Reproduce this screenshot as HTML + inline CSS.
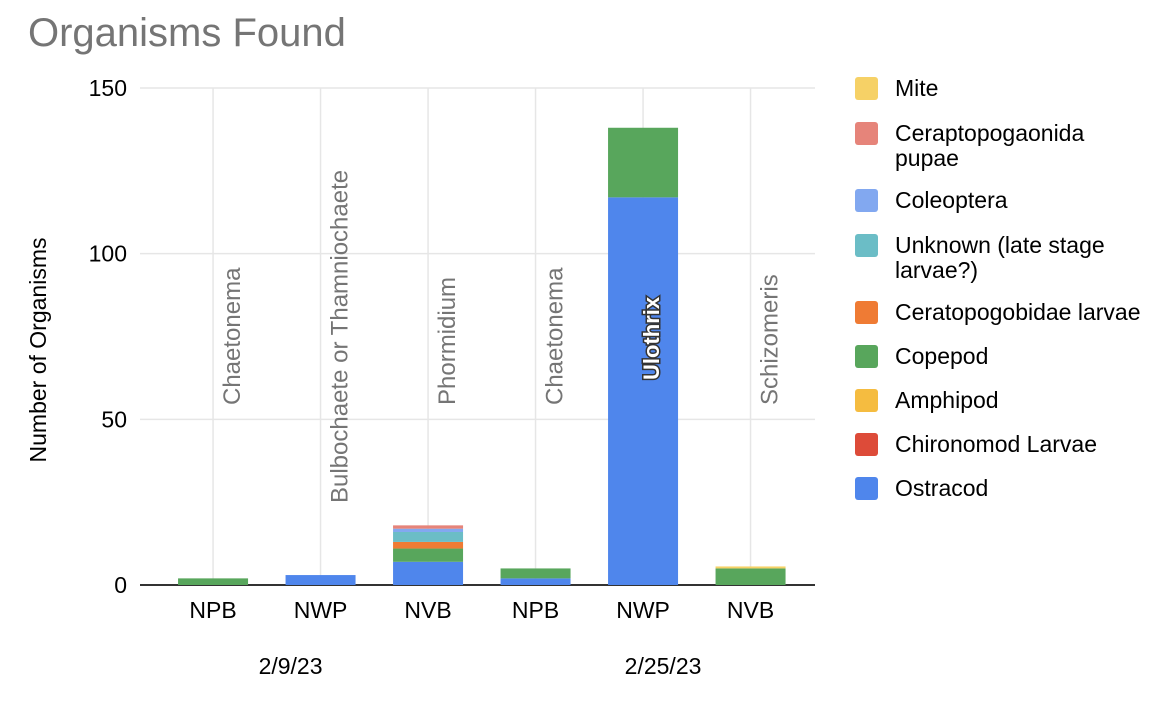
<!DOCTYPE html>
<html><head><meta charset="utf-8"><style>
body{margin:0;background:#fff;font-family:"Liberation Sans",Arial,sans-serif;}
svg text{font-family:"Liberation Sans",Arial,sans-serif;}
</style></head><body>
<svg id="c" width="1164" height="700">
<text x="28" y="46" font-size="40" fill="#757575">Organisms Found</text>
<text transform="translate(46,350) rotate(-90)" text-anchor="middle" font-size="23" fill="#000">Number of Organisms</text>
<g id="grid"></g><g id="bars"></g><g id="ann"></g><g id="legend"></g>
</svg>
<script>
const categories=["NPB","NWP","NVB","NPB","NWP","NVB"];
const dates=["2/9/23","2/25/23"];
const annotations=["Chaetonema","Bulbochaete or Thamniochaete","Phormidium","Chaetonema","Ulothrix","Schizomeris"];
const seriesNames=["Ostracod","Chironomod Larvae","Amphipod","Copepod","Ceratopogobidae larvae","Unknown (late stage larvae?)","Coleoptera","Ceraptopogaonida pupae","Mite"];
const colors=["#4f86ec","#dd4b39","#f5bc40","#58a65c","#ef7b34","#6bbdc6","#82a8f0","#e6847a","#f6d166"];
const ostracod=[0,3,7,2,117,0];
const chironomod=[0,0,0,0,0,0];
const amphipod=[0,0,0,0,0,0];
const copepod=[2,0,4,3,21,5];
const ceratoLarvae=[0,0,2,0,0,0];
const unknown=[0,0,3,0,0,0];
const coleoptera=[0,0,1,0,0,0];
const pupae=[0,0,1,0,0,0];
const mite=[0,0,0,0,0,0.6];
const yTicks=[0,50,100,150];
const series=[ostracod,chironomod,amphipod,copepod,ceratoLarvae,unknown,coleoptera,pupae,mite];
const NS="http://www.w3.org/2000/svg";
const y0=585,y1=88,yMax=150,xL=159.3,step=107.5,bw=70;
const Y=v=>y0-v/yMax*(y0-y1);
const X=i=>xL+step*(i+0.5);
function mk(t,a,p){const e=document.createElementNS(NS,t);for(const k in a)e.setAttribute(k,a[k]);(p||document.getElementById('c')).appendChild(e);return e;}
const grid=document.getElementById('grid'),bars=document.getElementById('bars'),ann=document.getElementById('ann'),lg=document.getElementById('legend');
yTicks.forEach(t=>{
 if(t>0){const l=mk('line',{x1:140,x2:815,y1:Y(t),y2:Y(t),stroke:'#e6e6e6','stroke-width':1.5},grid);
 
 }
 const tx=mk('text',{x:127,y:Y(t)+8,'text-anchor':'end','font-size':23},grid);tx.textContent=t;
 
 
});
categories.forEach((c,i)=>{
 const l=mk('line',{x1:X(i),x2:X(i),y1:y1,y2:y0,stroke:'#e6e6e6','stroke-width':1.5},grid);
 
 
 let acc=0;
 series.forEach((s,k)=>{const v=s[i];if(!v)return;
  const r=mk('rect',{x:X(i)-bw/2,y:Y(acc+v),width:bw,height:Y(acc)-Y(acc+v),fill:colors[k]},bars);
  
  
  acc+=v;});
 const t=mk('text',{x:X(i),y:618,'text-anchor':'middle','font-size':23},grid);t.textContent=c;
 
 
 const isU=annotations[i]==="Ulothrix";
 const endY=i===1?503:(isU?380:405);
 const a=mk('text',{transform:`translate(${X(i)+(isU?16:27)},${endY}) rotate(-90)`,'font-size':isU?22:24,fill:isU?'#fff':'#757575',stroke:isU?'#333':'none','stroke-width':isU?3:0,'paint-order':'stroke','font-weight':isU?'bold':'normal'},ann);
 a.textContent=annotations[i];
 
 
});
const base=mk('line',{x1:140,x2:815,y1:y0,y2:y0,stroke:'#333','stroke-width':2},grid);


dates.forEach((d,j)=>{const t=mk('text',{x:X(j*3+1)-30+j*50,y:674,'text-anchor':'middle','font-size':23},grid);t.textContent=d;
 
 });
const legendOrder=[8,7,6,5,4,3,2,1,0];
const legendY=[88,133,200,245,312,356,400,444,488];
legendOrder.forEach((k,j)=>{
 const g=mk('g',{},lg);
 
 
 mk('rect',{x:855,y:legendY[j]-11,width:23,height:23,rx:3,fill:colors[k]},g);
 const nm=seriesNames[k];
 const lines=nm==="Ceraptopogaonida pupae"?["Ceraptopogaonida","pupae"]:nm.startsWith("Unknown")?["Unknown (late stage","larvae?)"]:[nm];
 lines.forEach((ln,q)=>{const t=mk('text',{x:895,y:legendY[j]+8+q*25,'font-size':23},g);t.textContent=ln;});
});
</script>
</body></html>
